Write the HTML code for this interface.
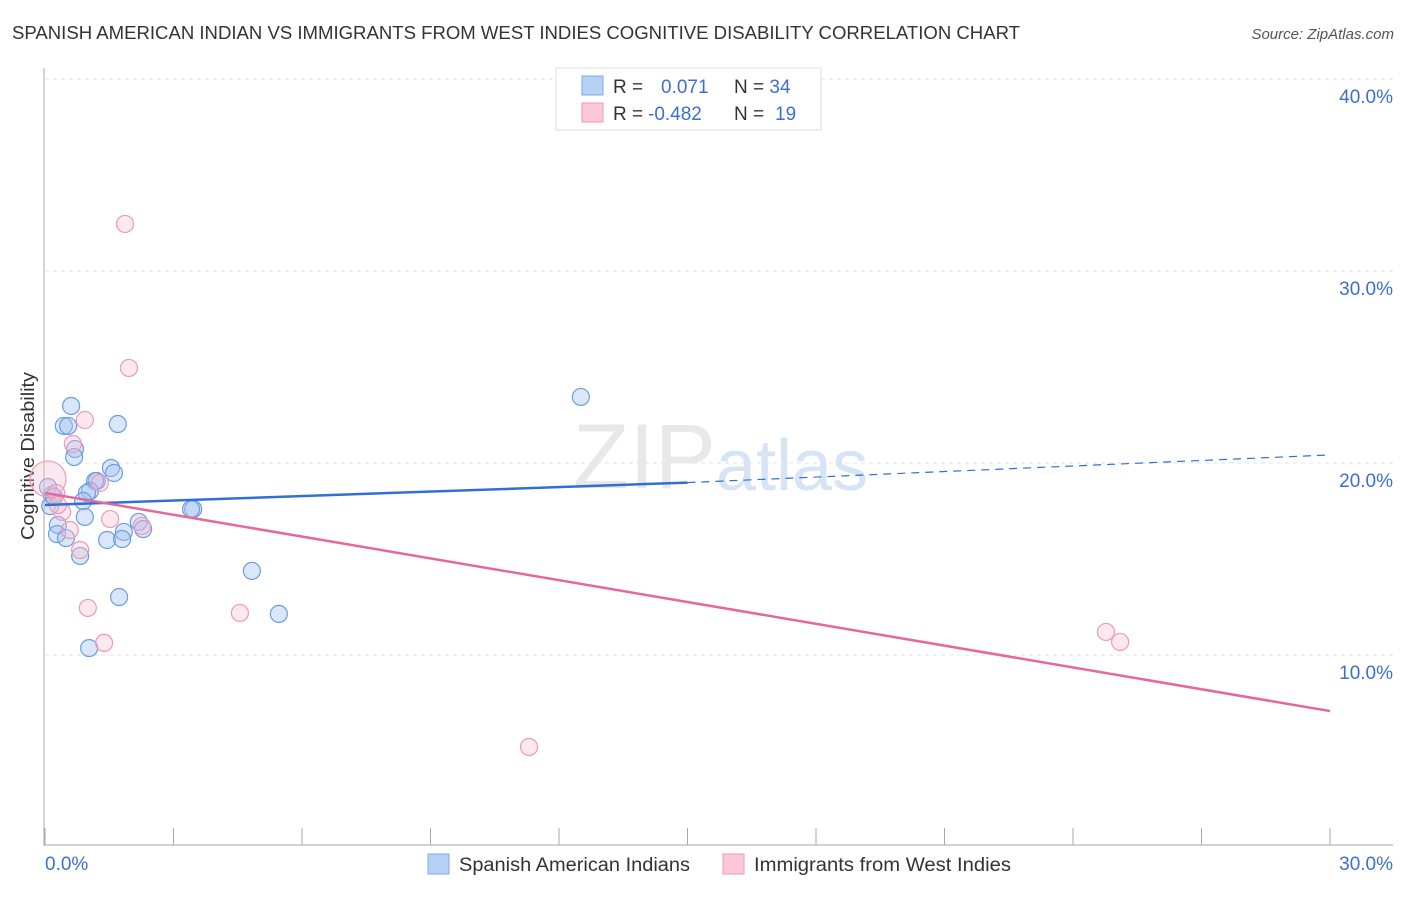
<!DOCTYPE html>
<html><head><meta charset="utf-8"><style>
body{margin:0;background:#fff;font-family:"Liberation Sans",sans-serif}
svg text{font-family:"Liberation Sans",sans-serif}
</style></head><body>
<svg width="1406" height="892" xmlns="http://www.w3.org/2000/svg">
<text x="12" y="39" font-size="18" fill="#333" textLength="1008" lengthAdjust="spacingAndGlyphs">SPANISH AMERICAN INDIAN VS IMMIGRANTS FROM WEST INDIES COGNITIVE DISABILITY CORRELATION CHART</text>
<text x="1394" y="39" font-size="15" fill="#555" font-style="italic" text-anchor="end">Source: ZipAtlas.com</text>
<g id="grid"></g>
<text x="716" y="488" font-size="92" fill="#e8e8e8" text-anchor="end" font-family="Liberation Serif">ZIP</text>
<text x="716" y="490" font-size="72" fill="#d6e4f5">atlas</text>
<line x1="44" y1="68" x2="44" y2="846" stroke="#aaa"/>
<line x1="44" y1="845" x2="1393" y2="845" stroke="#aaa"/>
<text x="34" y="456" font-size="18" fill="#333" text-anchor="middle" textLength="168" lengthAdjust="spacingAndGlyphs" transform="rotate(-90 34 456)">Cognitive Disability</text>
<text x="45" y="870" font-size="19" fill="#3d6fd1">0.0%</text>
<text x="1393" y="870" font-size="19" fill="#3d6fd1" text-anchor="end">30.0%</text>
<g id="marks"></g>
<g>
<rect x="556" y="68" width="265" height="62" fill="#fff" stroke="#ddd"/>
<rect x="582" y="76" width="21" height="19" fill="#b7d1f5" stroke="#7ea8e6"/>
<rect x="582" y="103" width="21" height="19" fill="#fbc8d7" stroke="#ef9ab5"/>
<text x="613" y="93" font-size="19" fill="#333">R = <tspan fill="#3d6fd1" x="661">0.071</tspan></text>
<text x="734" y="93" font-size="19" fill="#333">N = <tspan fill="#3d6fd1">34</tspan></text>
<text x="613" y="120" font-size="19" fill="#333">R = <tspan fill="#3d6fd1" x="648">-0.482</tspan></text>
<text x="734" y="120" font-size="19" fill="#333">N = <tspan fill="#3d6fd1" x="775">19</tspan></text>
</g>
<g>
<rect x="428" y="854" width="21" height="20" fill="#b7d1f5" stroke="#7ea8e6"/>
<text x="459" y="871" font-size="19" fill="#333" textLength="231" lengthAdjust="spacingAndGlyphs">Spanish American Indians</text>
<rect x="723" y="854" width="21" height="20" fill="#fbc8d7" stroke="#ef9ab5"/>
<text x="754" y="871" font-size="19" fill="#333" textLength="257" lengthAdjust="spacingAndGlyphs">Immigrants from West Indies</text>
</g>
</svg>
<script>
const yTicks=[10,20,30,40];
const xTicks=[0,3,6,9,12,15,18,21,24,27,30];
const blueX=[0.61,0.44,0.54,1.70,0.70,0.68,1.54,1.61,1.21,1.17,1.05,0.98,0.89,0.16,0.12,3.46,3.41,0.93,2.19,2.29,1.84,0.30,0.28,0.49,1.45,1.80,0.82,12.51,4.83,1.73,5.46,1.03,0.07,0.21];
const blueY=[22.97,21.93,21.93,22.03,20.73,20.31,19.74,19.48,19.06,19.06,18.54,18.44,18.02,18.33,17.76,17.60,17.60,17.19,16.93,16.56,16.41,16.77,16.30,16.09,15.99,16.04,15.16,23.44,14.38,13.02,12.14,10.36,18.75,18.23];
const pinkX=[1.87,1.96,0.93,0.65,0.07,0.26,1.28,0.40,1.52,0.58,2.26,0.82,1.00,4.55,1.38,24.77,25.10,11.30,0.30];
const pinkY=[32.45,24.95,22.24,20.99,19.17,18.44,18.96,17.45,17.08,16.51,16.72,15.47,12.45,12.19,10.63,11.20,10.68,5.21,17.81];
const pinkR=[8.5,8.5,8.5,8.5,18,8.5,8.5,8.5,8.5,8.5,8.5,8.5,8.5,8.5,8.5,8.5,8.5,8.5,8.5];
const blueLine=[17.81,18.98,20.42];
const pinkLine=[18.44,7.08];
const X=v=>45+v/30*1285, Y=v=>847-v*19.2;
const NS='http://www.w3.org/2000/svg';
function mk(t,a,p){const e=document.createElementNS(NS,t);for(const k in a)e.setAttribute(k,a[k]);p.appendChild(e);return e;}
const g=document.getElementById('grid'), m=document.getElementById('marks');
yTicks.forEach(t=>{
 const l=mk('line',{x1:45,x2:1393,y1:Y(t),y2:Y(t),stroke:'#e3e3e3','stroke-dasharray':'4,4'},g);
 
 
 const tx=mk('text',{x:1393,y:Y(t)+24,'font-size':19,fill:'#3d6fd1','text-anchor':'end'},g);
 tx.textContent=t.toFixed(1)+'%';
 
 
});
xTicks.forEach(t=>{
 const l=mk('line',{x1:X(t),x2:X(t),y1:828,y2:845,stroke:'#aaa'},g);
 
 
});
blueX.forEach((v,i)=>{
 const c=mk('circle',{cx:X(v),cy:Y(blueY[i]),r:8.5,fill:'rgba(160,195,240,0.4)',stroke:'#6b9de3','stroke-width':1.2},m);
 
 
});
pinkX.forEach((v,i)=>{
 const c=mk('circle',{cx:X(v),cy:Y(pinkY[i]),r:pinkR[i],fill:'rgba(250,190,208,0.35)',stroke:'#ee9ab4','stroke-width':1.2},m);
 
 
});
const b1=mk('line',{x1:X(0),y1:Y(blueLine[0]),x2:X(15),y2:Y(blueLine[1]),stroke:'#2f6fd6','stroke-width':2.5},m);


const b2=mk('line',{x1:X(15),y1:Y(blueLine[1]),x2:X(30),y2:Y(blueLine[2]),stroke:'#2f6fd6','stroke-width':1.2,'stroke-dasharray':'8,6'},m);


const p1=mk('line',{x1:X(0),y1:Y(pinkLine[0]),x2:X(30),y2:Y(pinkLine[1]),stroke:'#e6679a','stroke-width':2.5},m);


</script>
</body></html>
